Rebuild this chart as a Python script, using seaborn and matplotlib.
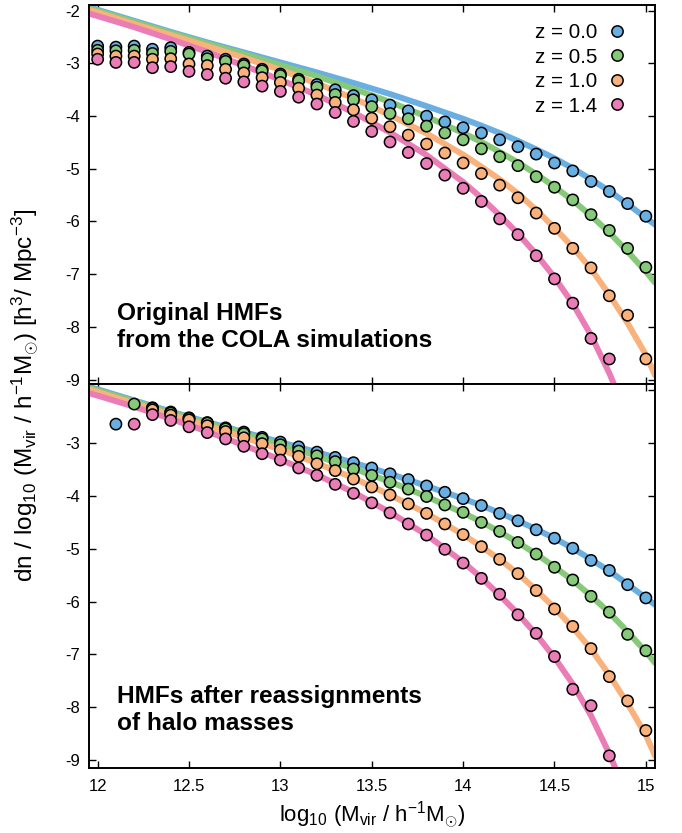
import numpy as np
import pandas as pd
import matplotlib
matplotlib.use("Agg")
import matplotlib.pyplot as plt
import seaborn as sns

# ---------------- data ----------------
redshift_labels = ["z = 0.0", "z = 0.5", "z = 1.0", "z = 1.4"]
colors = ["#6aafe2", "#86c979", "#f9b27c", "#ea7db6"]

log_mass = [12.0, 12.1, 12.2, 12.3, 12.4, 12.5, 12.6, 12.7, 12.8, 12.9,
            13.0, 13.1, 13.2, 13.3, 13.4, 13.5, 13.6, 13.7, 13.8, 13.9,
            14.0, 14.1, 14.2, 14.3, 14.4, 14.5, 14.6, 14.7, 14.8, 14.9, 15.0]

nan = np.nan
# Original HMFs (top panel)
orig_z00 = [-2.67, -2.69, -2.67, -2.73, -2.70, -2.79, -2.86, -2.92, -3.01, -3.11,
            -3.20, -3.30, -3.40, -3.50, -3.61, -3.69, -3.79, -3.90, -4.00, -4.11,
            -4.22, -4.32, -4.45, -4.58, -4.72, -4.89, -5.04, -5.24, -5.43, -5.66, -5.90]
orig_z05 = [-2.75, -2.76, -2.75, -2.81, -2.77, -2.82, -2.91, -2.96, -3.04, -3.14,
            -3.23, -3.33, -3.45, -3.59, -3.69, -3.82, -3.95, -4.05, -4.19, -4.32,
            -4.45, -4.62, -4.77, -4.94, -5.15, -5.35, -5.59, -5.87, -6.17, -6.51, -6.87]
orig_z10 = [-2.82, -2.86, -2.86, -2.92, -2.91, -3.01, -3.04, -3.11, -3.18, -3.27,
            -3.36, -3.47, -3.60, -3.74, -3.88, -4.04, -4.20, -4.36, -4.53, -4.70,
            -4.89, -5.09, -5.31, -5.55, -5.84, -6.13, -6.51, -6.88, -7.41, -7.78, -8.61]
orig_z14 = [-2.92, -2.98, -2.98, -3.08, -3.06, -3.15, -3.21, -3.28, -3.35, -3.43,
            -3.53, -3.64, -3.77, -3.93, -4.10, -4.29, -4.49, -4.69, -4.90, -5.12,
            -5.37, -5.62, -5.95, -6.25, -6.65, -7.09, -7.55, -8.22, -8.61, nan, nan]

# HMFs after reassignments of halo masses (bottom panel)
reas_z00 = [nan, -2.64, nan, -2.33, -2.41, -2.52, -2.61, -2.71, -2.79, -2.89,
            -2.98, -3.07, -3.17, -3.27, -3.37, -3.47, -3.58, -3.69, -3.81, -3.93,
            -4.05, -4.18, -4.33, -4.47, -4.64, -4.80, -4.99, -5.22, -5.41, -5.68, -5.93]
reas_z05 = [nan, nan, -2.26, -2.34, -2.43, -2.53, -2.62, -2.73, -2.82, -2.92,
            -3.03, -3.15, -3.24, -3.35, -3.49, -3.61, -3.74, -3.87, -4.01, -4.17,
            -4.31, -4.50, -4.67, -4.88, -5.10, -5.35, -5.59, -5.90, -6.20, -6.62, -6.93]
reas_z10 = [nan, nan, nan, -2.37, -2.47, -2.56, -2.67, -2.78, -2.90, -3.01,
            -3.13, -3.25, -3.39, -3.52, -3.68, -3.83, -3.98, -4.15, -4.33, -4.53,
            -4.73, -4.96, -5.20, -5.47, -5.79, -6.14, -6.47, -6.89, -7.42, -7.88, -8.44]
reas_z14 = [nan, nan, -2.64, -2.46, -2.57, -2.69, -2.80, -2.92, -3.06, -3.20,
            -3.32, -3.47, -3.61, -3.78, -3.95, -4.13, -4.32, -4.53, -4.74, -5.01,
            -5.27, -5.56, -5.86, -6.25, -6.60, -7.04, -7.66, -7.97, -8.92, nan, nan]

# Fitting-function curves (same in both panels)
curve_mass = [11.95, 12.0, 12.2, 12.4, 12.6, 12.8, 13.0, 13.2, 13.4, 13.6, 13.8,
              14.0, 14.1, 14.2, 14.3, 14.4, 14.5, 14.6, 14.7, 14.8, 14.9, 15.0, 15.05]
curve_z00 = [-1.93, -1.98, -2.19, -2.40, -2.60, -2.79, -2.98, -3.17, -3.37, -3.58, -3.81,
             -4.05, -4.18, -4.32, -4.47, -4.63, -4.80, -4.99, -5.20, -5.42, -5.67, -5.93, -6.06]
curve_z05 = [-1.95, -2.00, -2.21, -2.42, -2.62, -2.82, -3.03, -3.24, -3.48, -3.73, -4.01,
             -4.32, -4.49, -4.68, -4.88, -5.10, -5.34, -5.60, -5.89, -6.21, -6.57, -6.95, -7.16]
curve_z10 = [-1.98, -2.03, -2.25, -2.46, -2.67, -2.89, -3.12, -3.38, -3.66, -3.98, -4.33,
             -4.73, -4.96, -5.20, -5.47, -5.78, -6.12, -6.49, -6.90, -7.39, -7.93, -8.53, -8.92]
curve_z14 = [-2.05, -2.10, -2.31, -2.54, -2.78, -3.04, -3.31, -3.60, -3.93, -4.31, -4.74,
             -5.25, -5.55, -5.88, -6.23, -6.62, -7.06, -7.56, -8.16, -8.88, -9.70, -10.6, -11.1]

x_ticks = [12, 12.5, 13, 13.5, 14, 14.5, 15]
x_tick_labels = ["12", "12.5", "13", "13.5", "14", "14.5", "15"]
y_ticks = [-2, -3, -4, -5, -6, -7, -8, -9]

panel_texts = ["Original HMFs\nfrom the COLA simulations",
               "HMFs after reassignments\nof halo masses"]


def long_points(series):
    frames = []
    for lab, vals in zip(redshift_labels, series):
        frames.append(pd.DataFrame({"mass": log_mass, "hmf": vals, "z": lab}))
    return pd.concat(frames, ignore_index=True).dropna()


curves = pd.concat([pd.DataFrame({"mass": curve_mass, "hmf": v, "z": lab})
                    for lab, v in zip(redshift_labels,
                                      [curve_z00, curve_z05, curve_z10, curve_z14])],
                   ignore_index=True)
pts_top = long_points([orig_z00, orig_z05, orig_z10, orig_z14])
pts_bot = long_points([reas_z00, reas_z05, reas_z10, reas_z14])

# ---------------- style ----------------
sns.set_theme(style="ticks")
plt.rcParams["font.family"] = ["Liberation Sans", "DejaVu Sans"]
plt.rcParams["mathtext.fontset"] = "custom"
plt.rcParams["mathtext.rm"] = "Liberation Sans"
plt.rcParams["mathtext.it"] = "Liberation Sans"
plt.rcParams["mathtext.bf"] = "Liberation Sans:bold"
plt.rcParams["text.color"] = "black"
plt.rcParams["axes.labelcolor"] = "black"
plt.rcParams["xtick.color"] = "black"
plt.rcParams["ytick.color"] = "black"

palette = dict(zip(redshift_labels, colors))

fig = plt.figure(figsize=(6.82, 8.33), dpi=100)
L, R = 88.5 / 682, 655 / 682
ax_top = fig.add_axes([L, 1 - 384 / 833, R - L, (384 - 5) / 833])
ax_bot = fig.add_axes([L, 1 - 768 / 833, R - L, (768 - 384) / 833])

for ax, pts, txt, ylim in [(ax_top, pts_top, panel_texts[0], (-9.085, -1.89)),
                           (ax_bot, pts_bot, panel_texts[1], (-9.15, -1.88))]:
    sns.lineplot(data=curves, x="mass", y="hmf", hue="z", palette=palette,
                 linewidth=4.3, legend=False, sort=False, ax=ax, zorder=2)
    sns.scatterplot(data=pts, x="mass", y="hmf", hue="z", palette=palette,
                    s=66, edgecolor="black", linewidth=1.1, ax=ax, zorder=3,
                    legend=(ax is ax_top))
    ax.set_xlim(11.95, 15.05)
    ax.set_ylim(*ylim)
    ax.set_xticks(x_ticks)
    ax.set_yticks(y_ticks)
    ax.tick_params(direction="in", top=True, right=True, length=5, width=1.0,
                   labelsize=12, colors="black", labelcolor="black", pad=6)
    for s in ax.spines.values():
        s.set_linewidth(1.4)
        s.set_color("black")
    ax.set_xlabel("")
    ax.set_ylabel("")
    ax.text(0.050, 0.150 if ax is ax_top else 0.151, txt, transform=ax.transAxes,
            fontsize=17.6, fontweight="bold", ha="left", va="center",
            linespacing=1.2, color="black")

ax_top.set_xticklabels([])
ax_top.set_yticklabels([str(t) for t in y_ticks])
ax_bot.set_yticklabels([""] + [str(t) for t in y_ticks[1:]])
ax_bot.set_xticklabels(x_tick_labels)
ax_bot.tick_params(axis="x", pad=8)

handles, labels = ax_top.get_legend_handles_labels()
ax_top.legend(handles, labels, loc="upper right", bbox_to_anchor=(0.983, 0.985),
              markerfirst=False, frameon=False, fontsize=14.8, labelspacing=0.27,
              handletextpad=0.15, handlelength=1.6, borderaxespad=0.2)

fig.text(0.5 * (L + R), 1 - 815 / 833,
         r"log$_{10}$ (M$_{\rm vir}$ / h$^{-1}$M$_{\odot}$)",
         ha="center", va="center", fontsize=16, color="black")
fig.text(25 / 682, 1 - 395 / 833,
         r"dn / log$_{10}$ (M$_{\rm vir}$ / h$^{-1}$M$_{\odot}$) [h$^{3}$/ Mpc$^{-3}$]",
         ha="center", va="center", rotation=90, fontsize=17.5, color="black")

fig.savefig("out.png", dpi=100)
